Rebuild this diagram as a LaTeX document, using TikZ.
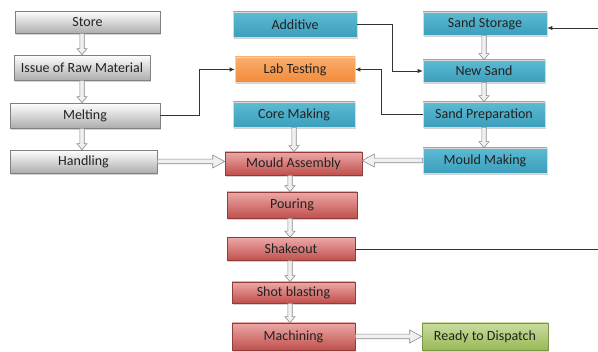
\documentclass[tikz,border=0pt]{standalone}
\usepackage{fontspec}
\setmainfont{Carlito}
\usetikzlibrary{arrows.meta,calc,shadows}
\definecolor{tealA}{HTML}{5DBAD3}
\definecolor{tealB}{HTML}{3C9FBC}
\definecolor{orangeA}{HTML}{FAAE6E}
\definecolor{orangeB}{HTML}{F38A3A}
\definecolor{redA}{HTML}{ECA8A6}
\definecolor{redB}{HTML}{C0504D}
\definecolor{greenA}{HTML}{C9DCA0}
\definecolor{greenB}{HTML}{98B956}
\definecolor{txt}{HTML}{222222}
\begin{document}
\begin{tikzpicture}[x=1pt,y=-1pt,
  box/.style={rectangle, inner sep=0pt, line width=0.6pt,
    font=\fontsize{14}{16}\selectfont, text=txt,
    drop shadow={opacity=0.35, shadow xshift=1.3pt, shadow yshift=-1.6pt}},
  graybox/.style={box, draw=black!50, top color=white, bottom color=black!32},
  tealbox/.style={box, draw=white!85!black, top color=tealA, bottom color=tealB},
  orangebox/.style={box, draw=white!85!black, top color=orangeA, bottom color=orangeB},
  redbox/.style={box, draw=redB!75!black, top color=redA, bottom color=redB},
  greenbox/.style={box, draw=greenB!80!black, top color=greenA, bottom color=greenB},
  hollow/.style={draw=black!45, fill=black!6, line width=0.6pt, line join=miter},
  vhollow/.style={hollow, to path={let \p1=(\tikztostart), \p2=(\tikztotarget) in
    (\x1-2.2pt,\y1) -- (\x1-2.2pt,\y2+6pt) -- (\x1-5pt,\y2+6pt) -- (\x1,\y2)
    -- (\x1+5pt,\y2+6pt) -- (\x1+2.2pt,\y2+6pt) -- (\x1+2.2pt,\y1) -- cycle}},
  rhollow/.style={hollow, to path={let \p1=(\tikztostart), \p2=(\tikztotarget) in
    (\x1,\y1+2.3pt) -- (\x2-12pt,\y1+2.3pt) -- (\x2-12pt,\y1+6.5pt) -- (\x2,\y1)
    -- (\x2-12pt,\y1-6.5pt) -- (\x2-12pt,\y1-2.3pt) -- (\x1,\y1-2.3pt) -- cycle}},
  lhollow/.style={hollow, to path={let \p1=(\tikztostart), \p2=(\tikztotarget) in
    (\x1,\y1+2.3pt) -- (\x2+12pt,\y1+2.3pt) -- (\x2+12pt,\y1+6.5pt) -- (\x2,\y1)
    -- (\x2+12pt,\y1-6.5pt) -- (\x2+12pt,\y1-2.3pt) -- (\x1,\y1-2.3pt) -- cycle}},
  conn/.style={draw=black!80, line width=0.7pt},
  connarrow/.style={conn, -{Latex[length=5pt,width=4.5pt]}}
]
\useasboundingbox (0,0) rectangle (598,352);

% left column
\node[graybox, minimum width=145pt, minimum height=22pt] (store) at (87.5,22) {Store};
\node[graybox, minimum width=136pt, minimum height=25pt] (issue) at (82,67.5) {Issue of Raw Material};
\node[graybox, minimum width=150pt, minimum height=25pt] (melt) at (85,115.5) {Melting};
\node[graybox, minimum width=147pt, minimum height=23pt] (hand) at (83.5,161.5) {Handling};

% middle column
\node[tealbox, minimum width=124pt, minimum height=25pt] (add) at (295,24.5) {Additive};
\node[orangebox, minimum width=120pt, minimum height=25pt] (lab) at (295,69.5) {Lab Testing};
\node[tealbox, minimum width=122pt, minimum height=25pt] (core) at (294,114.5) {Core Making};
\node[redbox, minimum width=137pt, minimum height=23pt] (ma) at (293.5,163.5) {Mould Assembly};
\node[redbox, minimum width=130pt, minimum height=26pt] (pour) at (292,205) {Pouring};
\node[redbox, minimum width=128pt, minimum height=23pt] (shake) at (291,249) {Shakeout};
\node[redbox, minimum width=123pt, minimum height=21pt] (shot) at (293.5,292.5) {Shot blasting};
\node[redbox, minimum width=123pt, minimum height=27pt] (mach) at (293.5,336.5) {Machining};

% sand column
\node[tealbox, minimum width=124pt, minimum height=23pt] (sst) at (485,23.5) {Sand Storage};
\node[tealbox, minimum width=122pt, minimum height=22pt] (news) at (484,71) {New Sand};
\node[tealbox, minimum width=122pt, minimum height=25pt] (prep) at (484,114.5) {Sand Preparation};
\node[tealbox, minimum width=124pt, minimum height=25pt] (mm) at (485,160.5) {Mould Making};
\node[greenbox, minimum width=126pt, minimum height=27pt] (ready) at (485,336.5) {Ready to Dispatch};

% hollow arrows, left column
\draw[vhollow] (store.south -| issue.north) to (issue.north);
\draw[vhollow] (issue.south) to (issue.south |- melt.north);
\draw[vhollow] (melt.south -| issue.south) to (issue.south |- hand.north);

% hollow arrows, middle column
\coordinate (mx) at (290,0);
\draw[vhollow] (core.south) to (core.south |- ma.north);
\draw[vhollow] (ma.south -| mx) to (pour.north -| mx);
\draw[vhollow] (pour.south -| mx) to (shake.north -| mx);
\draw[vhollow] (shake.south -| mx) to (shot.north -| mx);
\draw[vhollow] (shot.south -| mx) to (mach.north -| mx);

% hollow arrows, sand column
\draw[vhollow] (sst.south -| news.north) to (news.north);
\draw[vhollow] (news.south) to (prep.north);
\draw[vhollow] (prep.south) to (prep.south |- mm.north);

% horizontal hollow arrows
\draw[rhollow] (hand.east) to (hand.east -| ma.west);
\draw[lhollow] (mm.west) to (mm.west -| ma.east);
\draw[rhollow] (mach.east) to (ready.west);

% thin connectors
\draw[connarrow] (melt.east) -- ++(39,0) |- (lab.west);
\draw[connarrow] (add.east) -- ++(35,0) |- (news.west);
\draw[connarrow] (prep.west) -- ++(-41,0) |- (lab.east);
\coordinate (sin) at (598,28);
\draw[connarrow] (sin) -- (sin -| sst.east);
\coordinate (sout) at (598,249);
\draw[conn] (shake.east) -- (sout);
\end{tikzpicture}
\end{document}
